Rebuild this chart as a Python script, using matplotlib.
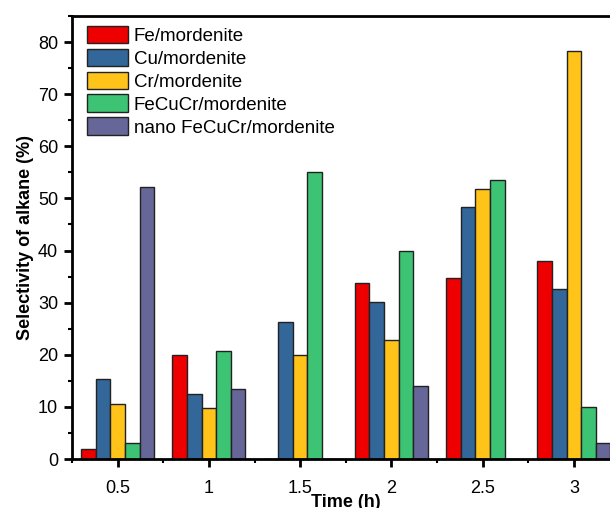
import numpy as np
from matplotlib import pyplot as plt
from matplotlib.ticker import MultipleLocator

plt.rcParams['font.family'] = ['Liberation Sans', 'DejaVu Sans']

# data
times = [0.5, 1, 1.5, 2, 2.5, 3]
fe = [2.0, 20.0, 0, 33.8, 34.8, 38.0]
cu = [15.4, 12.4, 26.3, 30.2, 48.3, 32.7]
cr = [10.6, 9.8, 19.9, 22.8, 51.9, 78.2]
fecucr = [3.1, 20.8, 55.0, 40.0, 53.6, 9.9]
nano = [52.2, 13.4, 0, 14.0, 0, 3.0]

labels = ["Fe/mordenite", "Cu/mordenite", "Cr/mordenite",
          "FeCuCr/mordenite", "nano FeCuCr/mordenite"]
colors = ["#EE0000", "#336699", "#FFC31A", "#3CC373", "#666699"]
series = [fe, cu, cr, fecucr, nano]

fig = plt.figure(figsize=(6.1, 5.08), dpi=100)
# right part of the axes lies outside the picture (cropped like the original)
ax = fig.add_axes([72 / 610, 49 / 508, 547.5 / 610, 443 / 508])

w = 0.08
x = np.array(times)
for i, (vals, lab, col) in enumerate(zip(series, labels, colors)):
    ax.bar(x + (i - 2) * w, vals, width=w, color=col, edgecolor="#222222",
           linewidth=1.0, label=lab)

ax.set_xlim(0.25, 3.25)
ax.set_ylim(0, 85)
ax.set_xticks(times)
ax.set_xticklabels(["0.5", "1", "1.5", "2", "2.5", "3"])
ax.xaxis.set_minor_locator(MultipleLocator(0.25))
ax.yaxis.set_major_locator(MultipleLocator(10))
ax.yaxis.set_minor_locator(MultipleLocator(5))

for s in ax.spines.values():
    s.set_linewidth(2)
ax.tick_params(which="major", direction="out", length=6, width=2, labelsize=13)
ax.tick_params(which="minor", direction="out", length=3, width=1.5)
ax.tick_params(axis="x", pad=9)
ax.tick_params(axis="y", pad=4)

ax.set_xlabel("Time (h)", fontsize=13, fontweight="bold", labelpad=-2)
ax.set_ylabel("Selectivity of alkane (%)", fontsize=13, fontweight="bold", labelpad=3)

ax.legend(loc="upper left", frameon=False, fontsize=13.5, handlelength=2.2,
          handleheight=1.07, handletextpad=0.3, labelspacing=0.2,
          borderaxespad=0.0, borderpad=0.3, bbox_to_anchor=(0.0165, 0.991))

plt.savefig("out.png", dpi=100)
